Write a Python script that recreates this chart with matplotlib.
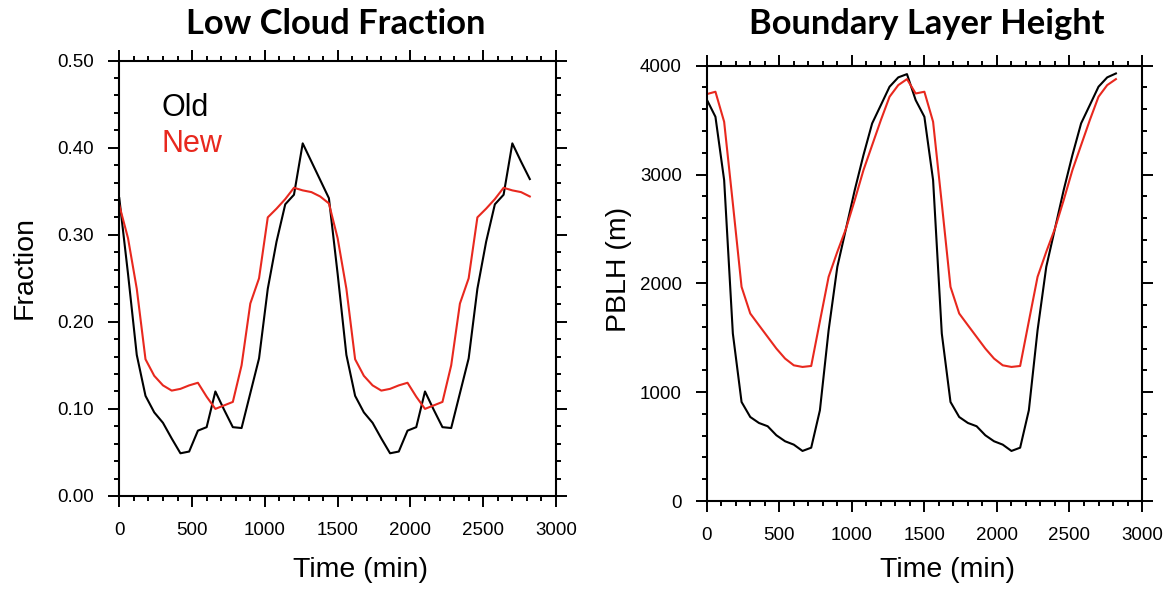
import matplotlib
matplotlib.use("Agg")
import matplotlib.pyplot as plt
from matplotlib.ticker import MultipleLocator, FormatStrFormatter

# time axis, one value per hour over two days
time = list(range(0, 2880, 60))

# low cloud fraction
lcf_old = [0.342, 0.255, 0.162, 0.115, 0.096, 0.084, 0.066, 0.049, 0.051, 0.075,
           0.079, 0.120, 0.099, 0.079, 0.078, 0.118, 0.158, 0.238, 0.292, 0.335,
           0.346, 0.405, 0.384, 0.363,
           0.342, 0.255, 0.162, 0.115, 0.096, 0.084, 0.066, 0.049, 0.051, 0.075,
           0.079, 0.120, 0.099, 0.079, 0.078, 0.118, 0.158, 0.238, 0.292, 0.335,
           0.346, 0.405, 0.384, 0.364]
lcf_new = [0.334, 0.296, 0.238, 0.157, 0.138, 0.127, 0.121, 0.123, 0.127, 0.130,
           0.114, 0.100, 0.104, 0.108, 0.150, 0.221, 0.250, 0.320, 0.330, 0.341,
           0.354, 0.351, 0.349, 0.344,
           0.336, 0.296, 0.238, 0.157, 0.138, 0.127, 0.121, 0.123, 0.127, 0.130,
           0.114, 0.100, 0.104, 0.108, 0.150, 0.221, 0.250, 0.320, 0.330, 0.341,
           0.354, 0.351, 0.349, 0.344]

# boundary layer height (m)
pblh_old = [3690, 3531, 2949, 1539, 910, 772, 717, 687, 604, 549,
            518, 460, 490, 834, 1569, 2152, 2504, 2857, 3178, 3470,
            3638, 3807, 3893, 3923,
            3684, 3531, 2949, 1539, 910, 772, 717, 687, 604, 549,
            518, 460, 490, 834, 1569, 2152, 2504, 2857, 3178, 3470,
            3638, 3807, 3893, 3929]
pblh_new = [3739, 3761, 3485, 2734, 1968, 1723, 1615, 1508, 1401, 1309,
            1247, 1232, 1241, 1652, 2060, 2290, 2504, 2765, 3040, 3270,
            3500, 3715, 3822, 3877,
            3745, 3761, 3485, 2734, 1968, 1723, 1615, 1508, 1401, 1309,
            1247, 1232, 1241, 1652, 2060, 2290, 2504, 2765, 3040, 3270,
            3500, 3715, 3822, 3877]

RED = '#e8281e'
plt.rcParams['font.family'] = ['Liberation Sans', 'DejaVu Sans']

fig = plt.figure(figsize=(11.73, 5.89), dpi=100)
ax1 = fig.add_axes([0.1017, 0.158, 0.3723, 0.739])
ax2 = fig.add_axes([0.6025, 0.1494, 0.3711, 0.739])


def style(ax, ymin, ymax, ymaj, ymin_step, fmt):
    ax.set_xlim(0, 3000)
    ax.set_ylim(ymin, ymax)
    ax.xaxis.set_major_locator(MultipleLocator(500))
    ax.xaxis.set_minor_locator(MultipleLocator(100))
    ax.yaxis.set_major_locator(MultipleLocator(ymaj))
    ax.yaxis.set_minor_locator(MultipleLocator(ymin_step))
    ax.yaxis.set_major_formatter(FormatStrFormatter(fmt))
    ax.tick_params(which='both', direction='out', top=True, right=True,
                   width=1.4, labelsize=13.5)
    ax.tick_params(which='major', length=8)
    ax.tick_params(which='minor', length=3.8)
    ax.tick_params(axis='x', pad=11)
    ax.tick_params(axis='y', pad=10)
    for s in ax.spines.values():
        s.set_linewidth(1.5)
    ax.set_xlabel('Time (min)', fontsize=20.5)


# left: low cloud fraction
ax1.plot(time, lcf_old, color='black', lw=1.5)
ax1.plot(time, lcf_new, color=RED, lw=1.5)
style(ax1, 0, 0.5, 0.1, 0.02, '%.2f')
ax1.set_ylabel('Fraction', fontsize=20.5)
ax1.xaxis.set_label_coords(0.553, -0.140)
ax1.yaxis.set_label_coords(-0.188, 0.524)
ax1.text(291, 0.446, 'Old', color='black', fontsize=22, va='center')
ax1.text(291, 0.404, 'New', color=RED, fontsize=22, va='center')

# right: boundary layer height
ax2.plot(time, pblh_old, color='black', lw=1.5)
ax2.plot(time, pblh_new, color=RED, lw=1.5)
style(ax2, 0, 4000, 1000, 200, '%d')
ax2.set_ylabel('PBLH (m)', fontsize=20.5)
ax2.xaxis.set_label_coords(0.552, -0.128)
ax2.yaxis.set_label_coords(-0.172, 0.531)

fig.text(0.2862, 1 - 24.5 / 589, 'Low Cloud Fraction', family='Lato',
         weight='bold', fontsize=24.8, ha='center', va='center')
fig.text(0.7903, 1 - 24.5 / 589, 'Boundary Layer Height', family='Lato',
         weight='bold', fontsize=24.8, ha='center', va='center')

fig.savefig('out.png', dpi=100)
